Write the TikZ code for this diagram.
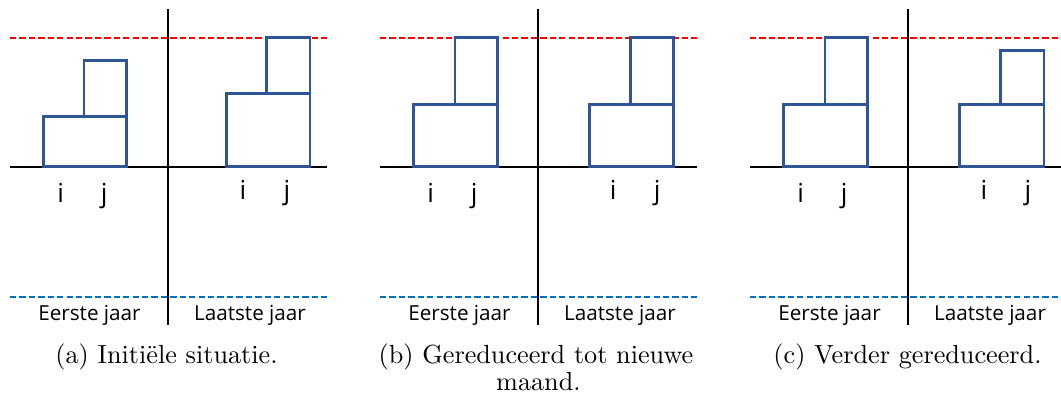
\documentclass[tikz,border=0pt]{standalone}
\usepackage{fontspec}
\usepackage{xcolor}
\usetikzlibrary{positioning}
\newfontfamily\labelfont{Open Sans}
\definecolor{boxblue}{HTML}{2F5597}
\definecolor{lineblue}{HTML}{0070C0}

\begin{document}
\begin{tikzpicture}[x=0.3817pt, y=-0.3817pt,
    axis/.style={black, line width=0.9pt},
    maxline/.style={red, line width=0.8pt, dash pattern=on 2.4pt off 1.2pt},
    minline/.style={lineblue, line width=0.8pt, dash pattern=on 2.4pt off 1.2pt},
    blok/.style={draw=boxblue, line width=1pt},
    idx/.style={anchor=base, font=\labelfont\fontsize{10}{12}\selectfont},
    jaar/.style={anchor=base, font=\labelfont\fontsize{7.9}{9.5}\selectfont},
    bijschrift/.style={anchor=base, font=\fontsize{10}{12}\selectfont}]
      \useasboundingbox (0,0) rectangle (1061,398);

      % assen, grenzen en jaren
      \foreach \s/\e/\p in {0/327/a, 370/327/b, 740/321/c} {
        \begin{scope}[shift={(\s,0)}]
          \draw[axis] (168,9.3) -- (168,325);
          \draw[axis] (10,166.7) -- (\e,166.7);
          \draw[maxline] (10,37.7) -- (\e,37.7);
          \draw[minline] (10,296.7) -- (\e,296.7);
          \node[jaar] (eerste-\p) at (89.5,320.7) {Eerste jaar};
          \node[jaar] (laatste-\p) at (250,320.7) {Laatste jaar};
        \end{scope}
      }

      % (a)
      \draw[blok] (43.3,116.7) rectangle (126.7,166.7);
      \draw[blok] (84,60.7) rectangle (126.7,116.7);
      \draw[blok] (226.7,93.3) rectangle (310,166.7);
      \draw[blok] (266.7,37.7) rectangle (310,93.3);
      \node[idx] (ia1) at (60.7,202.7) {i};
      \node[idx] (ja1) at (104.3,202.7) {j};
      \node[idx] (ia2) at (243,199.5) {i};
      \node[idx] (ja2) at (287,199.5) {j};
      \node[bijschrift] (capa) at (166.5,363.5) {(a) Initiële situatie.};

      % (b)
      \draw[blok] (413.3,104.3) rectangle (497.7,166.7);
      \draw[blok] (455,37.7) rectangle (497.7,104.3);
      \draw[blok] (589.3,104.3) rectangle (673.3,166.7);
      \draw[blok] (630.7,37.7) rectangle (673.3,104.3);
      \node[idx] (ib1) at (430.7,202.7) {i};
      \node[idx] (jb1) at (474.3,202.7) {j};
      \node[idx] (ib2) at (613.3,199.5) {i};
      \node[idx] (jb2) at (657.3,199.5) {j};
      \node[bijschrift] (capb) at (536,363.5) {(b) Gereduceerd tot nieuwe};
      \node[bijschrift] (capb2) at (538.4,390.5) {maand.};

      % (c)
      \draw[blok] (783.3,104.3) rectangle (867.5,166.7);
      \draw[blok] (825,37.7) rectangle (867.5,104.3);
      \draw[blok] (959.3,104.3) rectangle (1044,166.7);
      \draw[blok] (1000.7,50.3) rectangle (1044,104.3);
      \node[idx] (ic1) at (800.7,202.7) {i};
      \node[idx] (jc1) at (844.3,202.7) {j};
      \node[idx] (ic2) at (984,199.5) {i};
      \node[idx] (jc2) at (1028,199.5) {j};
      \node[bijschrift] (capc) at (907.5,363.5) {(c) Verder gereduceerd.};
\end{tikzpicture}
\end{document}
